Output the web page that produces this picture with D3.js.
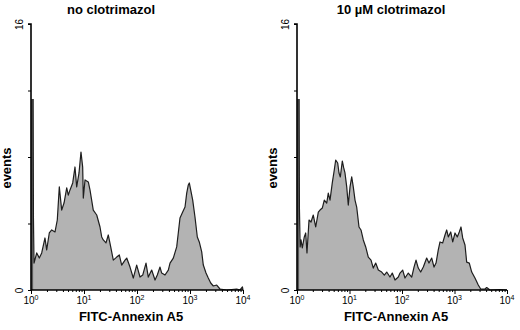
<!DOCTYPE html>
<html><head><meta charset="utf-8">
<script src="https://cdn.jsdelivr.net/npm/d3@7/dist/d3.min.js"></script>
<style>body{margin:0;background:#fff}svg{display:block;font-family:"Liberation Sans",Arial,sans-serif}</style>
</head><body>
<svg id="c" width="520" height="330"></svg>
<script>
// ---- data (log10 fluorescence position, events) ----
const panelTitles = ["no clotrimazol", "10 µM clotrimazol"];
const xTitle = "FITC-Annexin A5";
const yTitle = "events";
const yTicks = [0, 4, 8, 12, 16];
const yTickLabels = ["0", "", "", "", "16"];
const xDecades = [0, 1, 2, 3, 4];

const noClotLog = [0.000,0.040,0.046,0.057,0.108,0.157,0.202,0.264,0.296,0.345,0.391,0.453,0.496,0.534,0.579,0.623,0.674,0.704,0.736,0.787,0.830,0.862,0.906,0.943,0.975,0.987,1.019,1.081,1.113,1.175,1.240,1.302,1.334,1.364,1.415,1.458,1.504,1.553,1.617,1.666,1.711,1.774,1.806,1.868,1.930,1.994,2.057,2.108,2.170,2.213,2.277,2.340,2.383,2.434,2.466,2.528,2.591,2.623,2.685,2.749,2.779,2.811,2.862,2.906,2.938,2.968,2.987,3.013,3.051,3.094,3.138,3.175,3.221,3.251,3.302,3.345,3.391,3.440,3.504,3.566,3.692,3.881,3.943,3.990,4.000];
const noClotEvents = [11.49,11.49,4.35,1.62,2.23,1.92,2.23,3.13,2.41,3.43,3.61,3.49,4.21,6.20,4.81,5.23,6.14,5.71,6.02,6.44,7.40,6.20,7.04,8.30,7.40,5.53,6.62,6.50,6.02,4.81,4.51,3.79,3.19,3.01,2.83,3.31,2.59,1.80,1.98,2.11,1.50,1.80,1.92,1.38,0.72,1.50,0.78,0.90,1.62,0.78,1.20,0.60,0.90,1.38,1.02,0.90,1.20,1.62,1.92,2.59,3.43,4.33,4.69,4.99,5.83,6.32,6.44,6.02,5.41,4.39,3.19,2.89,2.29,1.50,1.02,0.72,0.42,0.24,0.30,0.06,0.00,0.06,0.00,0.18,0.00];

const clotLog = [0.000,0.040,0.046,0.060,0.076,0.101,0.139,0.166,0.190,0.229,0.267,0.310,0.356,0.406,0.438,0.482,0.520,0.566,0.596,0.629,0.672,0.710,0.737,0.775,0.800,0.825,0.863,0.890,0.914,0.947,0.977,1.010,1.042,1.072,1.105,1.137,1.181,1.219,1.263,1.309,1.358,1.410,1.453,1.499,1.549,1.613,1.663,1.709,1.771,1.815,1.867,1.930,1.962,2.013,2.057,2.120,2.185,2.229,2.267,2.310,2.356,2.406,2.470,2.514,2.566,2.610,2.648,2.691,2.724,2.775,2.819,2.851,2.882,2.928,2.966,3.010,3.053,3.091,3.124,3.156,3.200,3.232,3.282,3.328,3.390,3.453,3.499,3.581,3.613,3.676,3.867,4.000];
const clotEvents = [11.49,11.49,4.93,2.59,3.01,2.53,3.19,3.43,2.23,4.21,4.09,4.51,3.79,4.69,4.81,4.93,5.41,5.23,5.83,5.41,6.44,7.22,7.82,7.64,7.04,6.80,7.76,7.34,7.04,6.20,5.11,6.20,6.80,6.20,5.41,4.99,3.79,3.61,3.01,2.59,1.98,1.80,1.32,1.62,1.20,1.08,0.90,1.08,0.78,1.02,0.60,0.78,1.02,1.20,0.72,1.02,0.78,1.38,1.80,1.32,1.08,1.38,1.92,1.62,1.92,1.38,1.62,2.41,2.89,2.83,3.31,3.61,3.19,3.49,2.89,3.43,3.19,3.49,3.79,3.13,2.71,1.68,1.62,1.08,0.72,0.30,0.06,0.06,0.15,0.00,0.03,0.00];

// ---- layout ----
const panels = [
  {x0: 31, x1: 243, title: panelTitles[0], titleX: 111, logs: noClotLog, ev: noClotEvents},
  {x0: 297, x1: 507, title: panelTitles[1], titleX: 391, logs: clotLog, ev: clotEvents}
];
const yTop = 24, yBot = 290;
const svg = d3.select("#c");

panels.forEach(p => {
  const g = svg.append("g");
  const x = d3.scaleLog().domain([1, 1e4]).range([p.x0, p.x1]);
  const y = d3.scaleLinear().domain([0, 16]).range([yBot, yTop]);
  const data = p.logs.map((l, i) => ({f: Math.pow(10, l), c: p.ev[i]}));

  const area = d3.area().x(d => x(d.f)).y0(y(0)).y1(d => y(d.c));
  const line = d3.line().x(d => x(d.f)).y(d => y(d.c));
  g.append("path").datum(data).attr("d", area).attr("fill", "#b3b3b3");
  // first channel bar (dark grey)
  g.append("rect").attr("x", x(Math.pow(10, p.logs[0]))).attr("y", y(p.ev[0]))
    .attr("width", x(Math.pow(10, p.logs[1])) - x(Math.pow(10, p.logs[0])))
    .attr("height", y(0) - y(p.ev[0])).attr("fill", "#5a5a5a");
  g.append("path").datum(data.slice(1)).attr("d", line).attr("fill", "none")
    .attr("stroke", "#1e1e1e").attr("stroke-width", 1.2).attr("stroke-linejoin", "round");

  // y axis
  const ya = d3.axisLeft(y).tickValues(yTicks).tickSize(3)
    .tickFormat((d, i) => yTickLabels[i]);
  const yg = g.append("g").attr("transform", `translate(${p.x0},0)`).call(ya);
  yg.select(".domain").attr("stroke", "#000").attr("stroke-width", 1.6).attr("d", `M-3,${yTop}H0V${yBot}`);
  yg.selectAll(".tick line").attr("stroke", "#000").attr("stroke-width", 1);
  yg.selectAll(".tick text").each(function(){
    d3.select(this).attr("x", null).attr("y", null).attr("dy", null)
      .attr("transform", `translate(-8,0) rotate(-90)`).attr("text-anchor", "middle")
      .attr("font-size", 10).attr("fill", "#000");
  });

  // x axis
  const minor = [];
  for (let e = 0; e < 4; e++) for (let k = 2; k <= 9; k++) minor.push(k * Math.pow(10, e));
  const xg = g.append("g").attr("transform", `translate(0,${yBot})`);
  xg.call(d3.axisBottom(x).tickValues(minor).tickSize(2).tickFormat(""));
  xg.select(".domain").remove();
  xg.selectAll(".tick line").attr("stroke", "#000");
  const xm = g.append("g").attr("transform", `translate(0,${yBot})`)
    .call(d3.axisBottom(x).tickValues(xDecades.map(d => Math.pow(10, d))).tickSize(4).tickFormat(""));
  xm.select(".domain").attr("stroke", "#000").attr("stroke-width", 1.4).attr("d", `M${p.x0},0H${p.x1}`);
  xm.selectAll(".tick line").attr("stroke", "#000");
  xDecades.forEach(d => {
    const t = g.append("text").attr("x", x(Math.pow(10, d))).attr("y", yBot + 14)
      .attr("font-size", 10).attr("text-anchor", "middle").attr("fill", "#000");
    t.append("tspan").text("10");
    t.append("tspan").attr("font-size", 7).attr("dy", -4).text(d);
  });

  // titles
  g.append("text").attr("x", p.titleX).attr("y", 14).attr("text-anchor", "middle")
    .attr("font-size", 13).attr("font-weight", "bold").text(p.title);
  g.append("text").attr("x", (p.x0 + p.x1) / 2 - 6).attr("y", 321).attr("text-anchor", "middle")
    .attr("font-size", 13).attr("font-weight", "bold").text(xTitle);
  g.append("text").attr("transform", `translate(${p.x0 - 20},168) rotate(-90)`)
    .attr("text-anchor", "middle").attr("font-size", 13).attr("font-weight", "bold").text(yTitle);
});
</script>
</body></html>
